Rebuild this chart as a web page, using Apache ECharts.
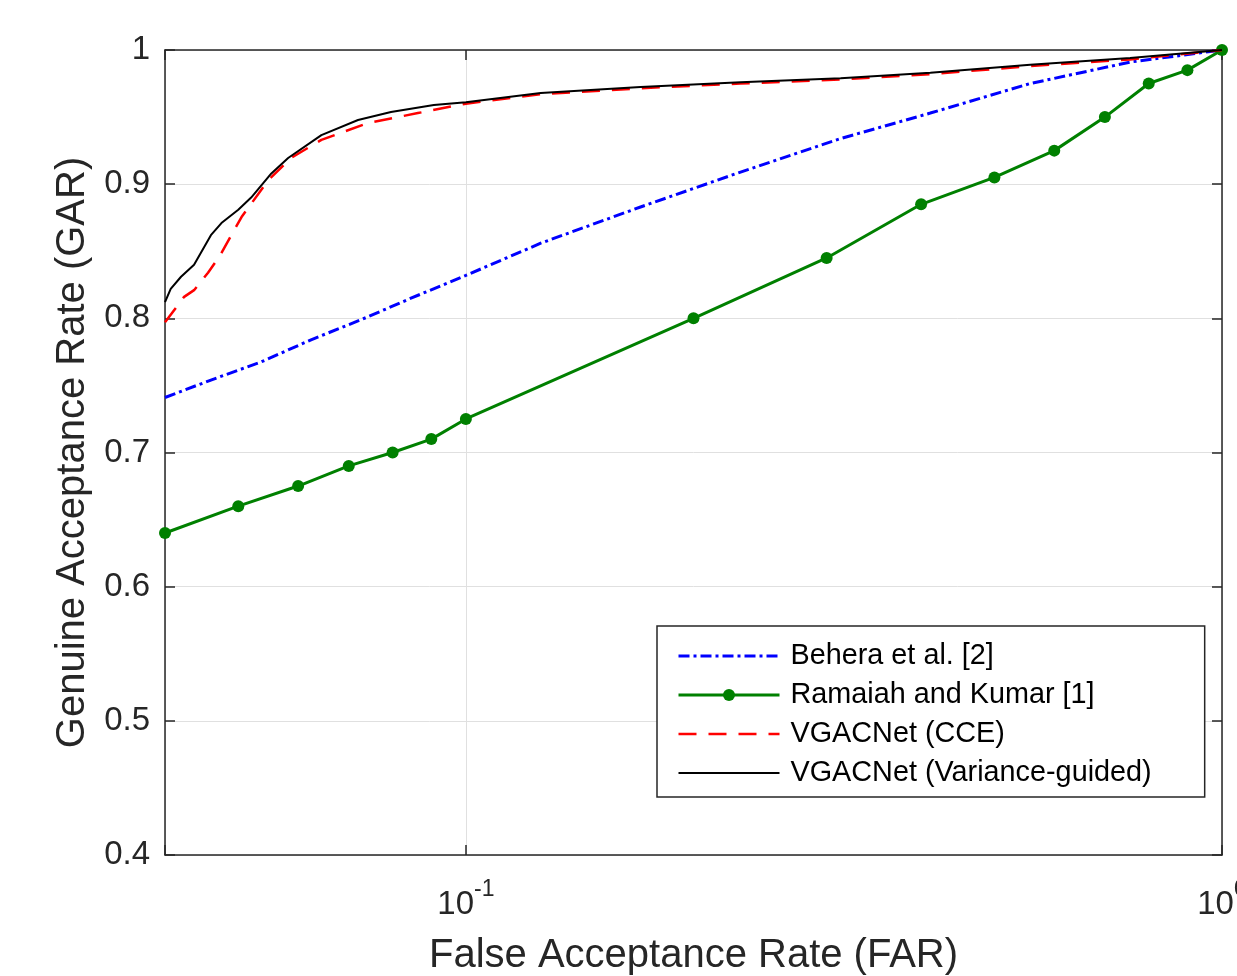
<!DOCTYPE html>
<html>
<head>
<meta charset="utf-8">
<title>GAR vs FAR</title>
<script src="https://cdn.jsdelivr.net/npm/echarts@6.0.0/dist/echarts.min.js"></script>
<style>
  html, body { margin: 0; padding: 0; background: #fff; overflow: hidden; }
  #chart { width: 1237px; height: 976px; }
</style>
</head>
<body>
<div id="chart"></div>
<script>
// values (FAR on log x axis, GAR on y axis)
const seriesNames = [
  "Behera et al. [2]",
  "Ramaiah and Kumar [1]",
  "VGACNet (CCE)",
  "VGACNet (Variance-guided)",
];

const beheraFar = [0.04, 0.046, 0.0536, 0.0624, 0.0727, 0.0846, 0.1, 0.1256, 0.1702, 0.2308, 0.313, 0.4114, 0.5576, 0.756, 1];
const beheraGar = [0.741, 0.754, 0.7675, 0.784, 0.799, 0.815, 0.832, 0.856, 0.883, 0.909, 0.934, 0.953, 0.975, 0.991, 1];

const ramaiahFar = [0.04, 0.05, 0.06, 0.07, 0.08, 0.09, 0.1, 0.2, 0.3, 0.4, 0.5, 0.6, 0.7, 0.8, 0.9, 1];
const ramaiahGar = [0.64, 0.66, 0.675, 0.69, 0.7, 0.71, 0.725, 0.8, 0.845, 0.885, 0.905, 0.925, 0.95, 0.975, 0.985, 1];

const cceFar = [0.04, 0.0424, 0.0437, 0.0456, 0.0472, 0.0494, 0.0505, 0.0548, 0.0587, 0.0644, 0.0742, 0.0864, 0.1, 0.1256, 0.1702, 0.2308, 0.313, 0.4114, 0.5576, 0.756, 1];
const cceGar = [0.797, 0.816, 0.821, 0.834, 0.846, 0.866, 0.8755, 0.903, 0.9195, 0.933, 0.9456, 0.953, 0.96, 0.967, 0.9715, 0.975, 0.978, 0.982, 0.988, 0.993, 1];

const vgFar = [0.04, 0.0407, 0.042, 0.0437, 0.046, 0.0475, 0.05, 0.052, 0.0553, 0.0582, 0.0644, 0.072, 0.0796, 0.0907, 0.1, 0.1256, 0.1702, 0.2308, 0.313, 0.4114, 0.5576, 0.756, 1];
const vgGar = [0.812, 0.822, 0.831, 0.84, 0.862, 0.871, 0.881, 0.89, 0.908, 0.9195, 0.9366, 0.9478, 0.9538, 0.959, 0.961, 0.968, 0.9724, 0.976, 0.979, 0.983, 0.989, 0.994, 1];

const yTicks = [0.4, 0.5, 0.6, 0.7, 0.8, 0.9, 1];

const font = "'Liberation Sans', Arial, Helvetica, sans-serif";
const axisColor = "#262626";
const gridColor = "#e0e0e0";

const lines = [
  { color: "#0000ff", width: 3, type: [11, 4, 3, 4] },
  { color: "#008000", width: 3, type: "solid" },
  { color: "#ff0000", width: 2.5, type: [18, 12] },
  { color: "#000000", width: 2, type: "solid" },
];

const zip = (xs, ys) => xs.map((x, i) => [x, ys[i]]);

const powLabel = (v) => {
  const lg = Math.log10(v);
  const e = Math.round(lg);
  if (Math.abs(lg - e) > 1e-6) return "";
  return "{b|10}{s|" + e + "}";
};

const chart = echarts.init(document.getElementById("chart"), null, { renderer: "canvas" });

const axisLine = { show: true, lineStyle: { color: axisColor, width: 1.5 } };
const axisTick = { show: true, inside: true, length: 10, lineStyle: { color: axisColor, width: 1.5 } };

chart.setOption({
  animation: false,
  backgroundColor: "#fff",
  textStyle: { fontFamily: font },
  grid: {
    left: 165,
    top: 50,
    right: 15,
    bottom: 121,
    containLabel: false,
    outerBoundsMode: "none",
  },
  xAxis: [
    {
      type: "log",
      logBase: 10,
      min: 0.04,
      max: 1,
      name: "False Acceptance Rate (FAR)",
      nameLocation: "middle",
      nameGap: 81,
      nameTextStyle: { fontSize: 40, color: axisColor, fontFamily: font },
      axisLine: axisLine,
      axisTick: axisTick,
      axisLabel: {
        margin: 23,
        formatter: powLabel,
        rich: {
          b: { fontSize: 33, color: axisColor, fontFamily: font, padding: [10, 0, 0, 0] },
          s: { fontSize: 23, color: axisColor, fontFamily: font, verticalAlign: "top" },
        },
      },
      splitLine: { show: true, lineStyle: { color: gridColor, width: 1 } },
    },
    {
      type: "log",
      logBase: 10,
      min: 0.04,
      max: 1,
      position: "top",
      axisLine: axisLine,
      axisTick: axisTick,
      axisLabel: { show: false },
      splitLine: { show: false },
    },
  ],
  yAxis: [
    {
      type: "value",
      min: yTicks[0],
      max: yTicks[yTicks.length - 1],
      interval: 0.1,
      name: "Genuine Acceptance Rate (GAR)",
      nameLocation: "middle",
      nameGap: 62,
      nameRotate: 90,
      nameTextStyle: { fontSize: 40, color: axisColor, fontFamily: font },
      axisLine: axisLine,
      axisTick: axisTick,
      axisLabel: {
        fontSize: 33,
        color: axisColor,
        fontFamily: font,
        margin: 15,
        formatter: (v) => String(Number(v.toFixed(1))),
      },
      splitLine: { show: true, lineStyle: { color: gridColor, width: 1 } },
    },
    {
      type: "value",
      min: yTicks[0],
      max: yTicks[yTicks.length - 1],
      interval: 0.1,
      position: "right",
      axisLine: axisLine,
      axisTick: axisTick,
      axisLabel: { show: false },
      splitLine: { show: false },
    },
  ],
  legend: {
    orient: "vertical",
    left: 657,
    top: 626,
    padding: [15, 53, 9, 20],
    itemWidth: 101,
    itemHeight: 15,
    itemGap: 9,
    backgroundColor: "#fff",
    borderColor: axisColor,
    borderWidth: 1.5,
    borderRadius: 0,
    textStyle: { fontSize: 28.8, color: "#000", fontFamily: font, lineHeight: 30, padding: [0, 0, 0, 6] },
    data: seriesNames.map((name, i) => ({
      name: name,
      itemStyle: i === 1 ? { color: lines[i].color } : { opacity: 0 },
      lineStyle: { color: lines[i].color, width: lines[i].width, type: lines[i].type },
    })),
  },
  series: [
    {
      name: seriesNames[0],
      type: "line",
      data: zip(beheraFar, beheraGar),
      symbol: "none",
      lineStyle: lines[0],
      itemStyle: { color: lines[0].color },
      z: 2,
    },
    {
      name: seriesNames[1],
      type: "line",
      data: zip(ramaiahFar, ramaiahGar),
      symbol: "circle",
      symbolSize: 12,
      showSymbol: true,
      clip: false,
      lineStyle: lines[1],
      itemStyle: { color: lines[1].color },
      z: 3,
    },
    {
      name: seriesNames[2],
      type: "line",
      data: zip(cceFar, cceGar),
      symbol: "none",
      lineStyle: lines[2],
      itemStyle: { color: lines[2].color },
      z: 4,
    },
    {
      name: seriesNames[3],
      type: "line",
      data: zip(vgFar, vgGar),
      symbol: "none",
      lineStyle: lines[3],
      itemStyle: { color: lines[3].color },
      z: 5,
    },
  ],
});

window.addEventListener("resize", () => chart.resize());
</script>
</body>
</html>
